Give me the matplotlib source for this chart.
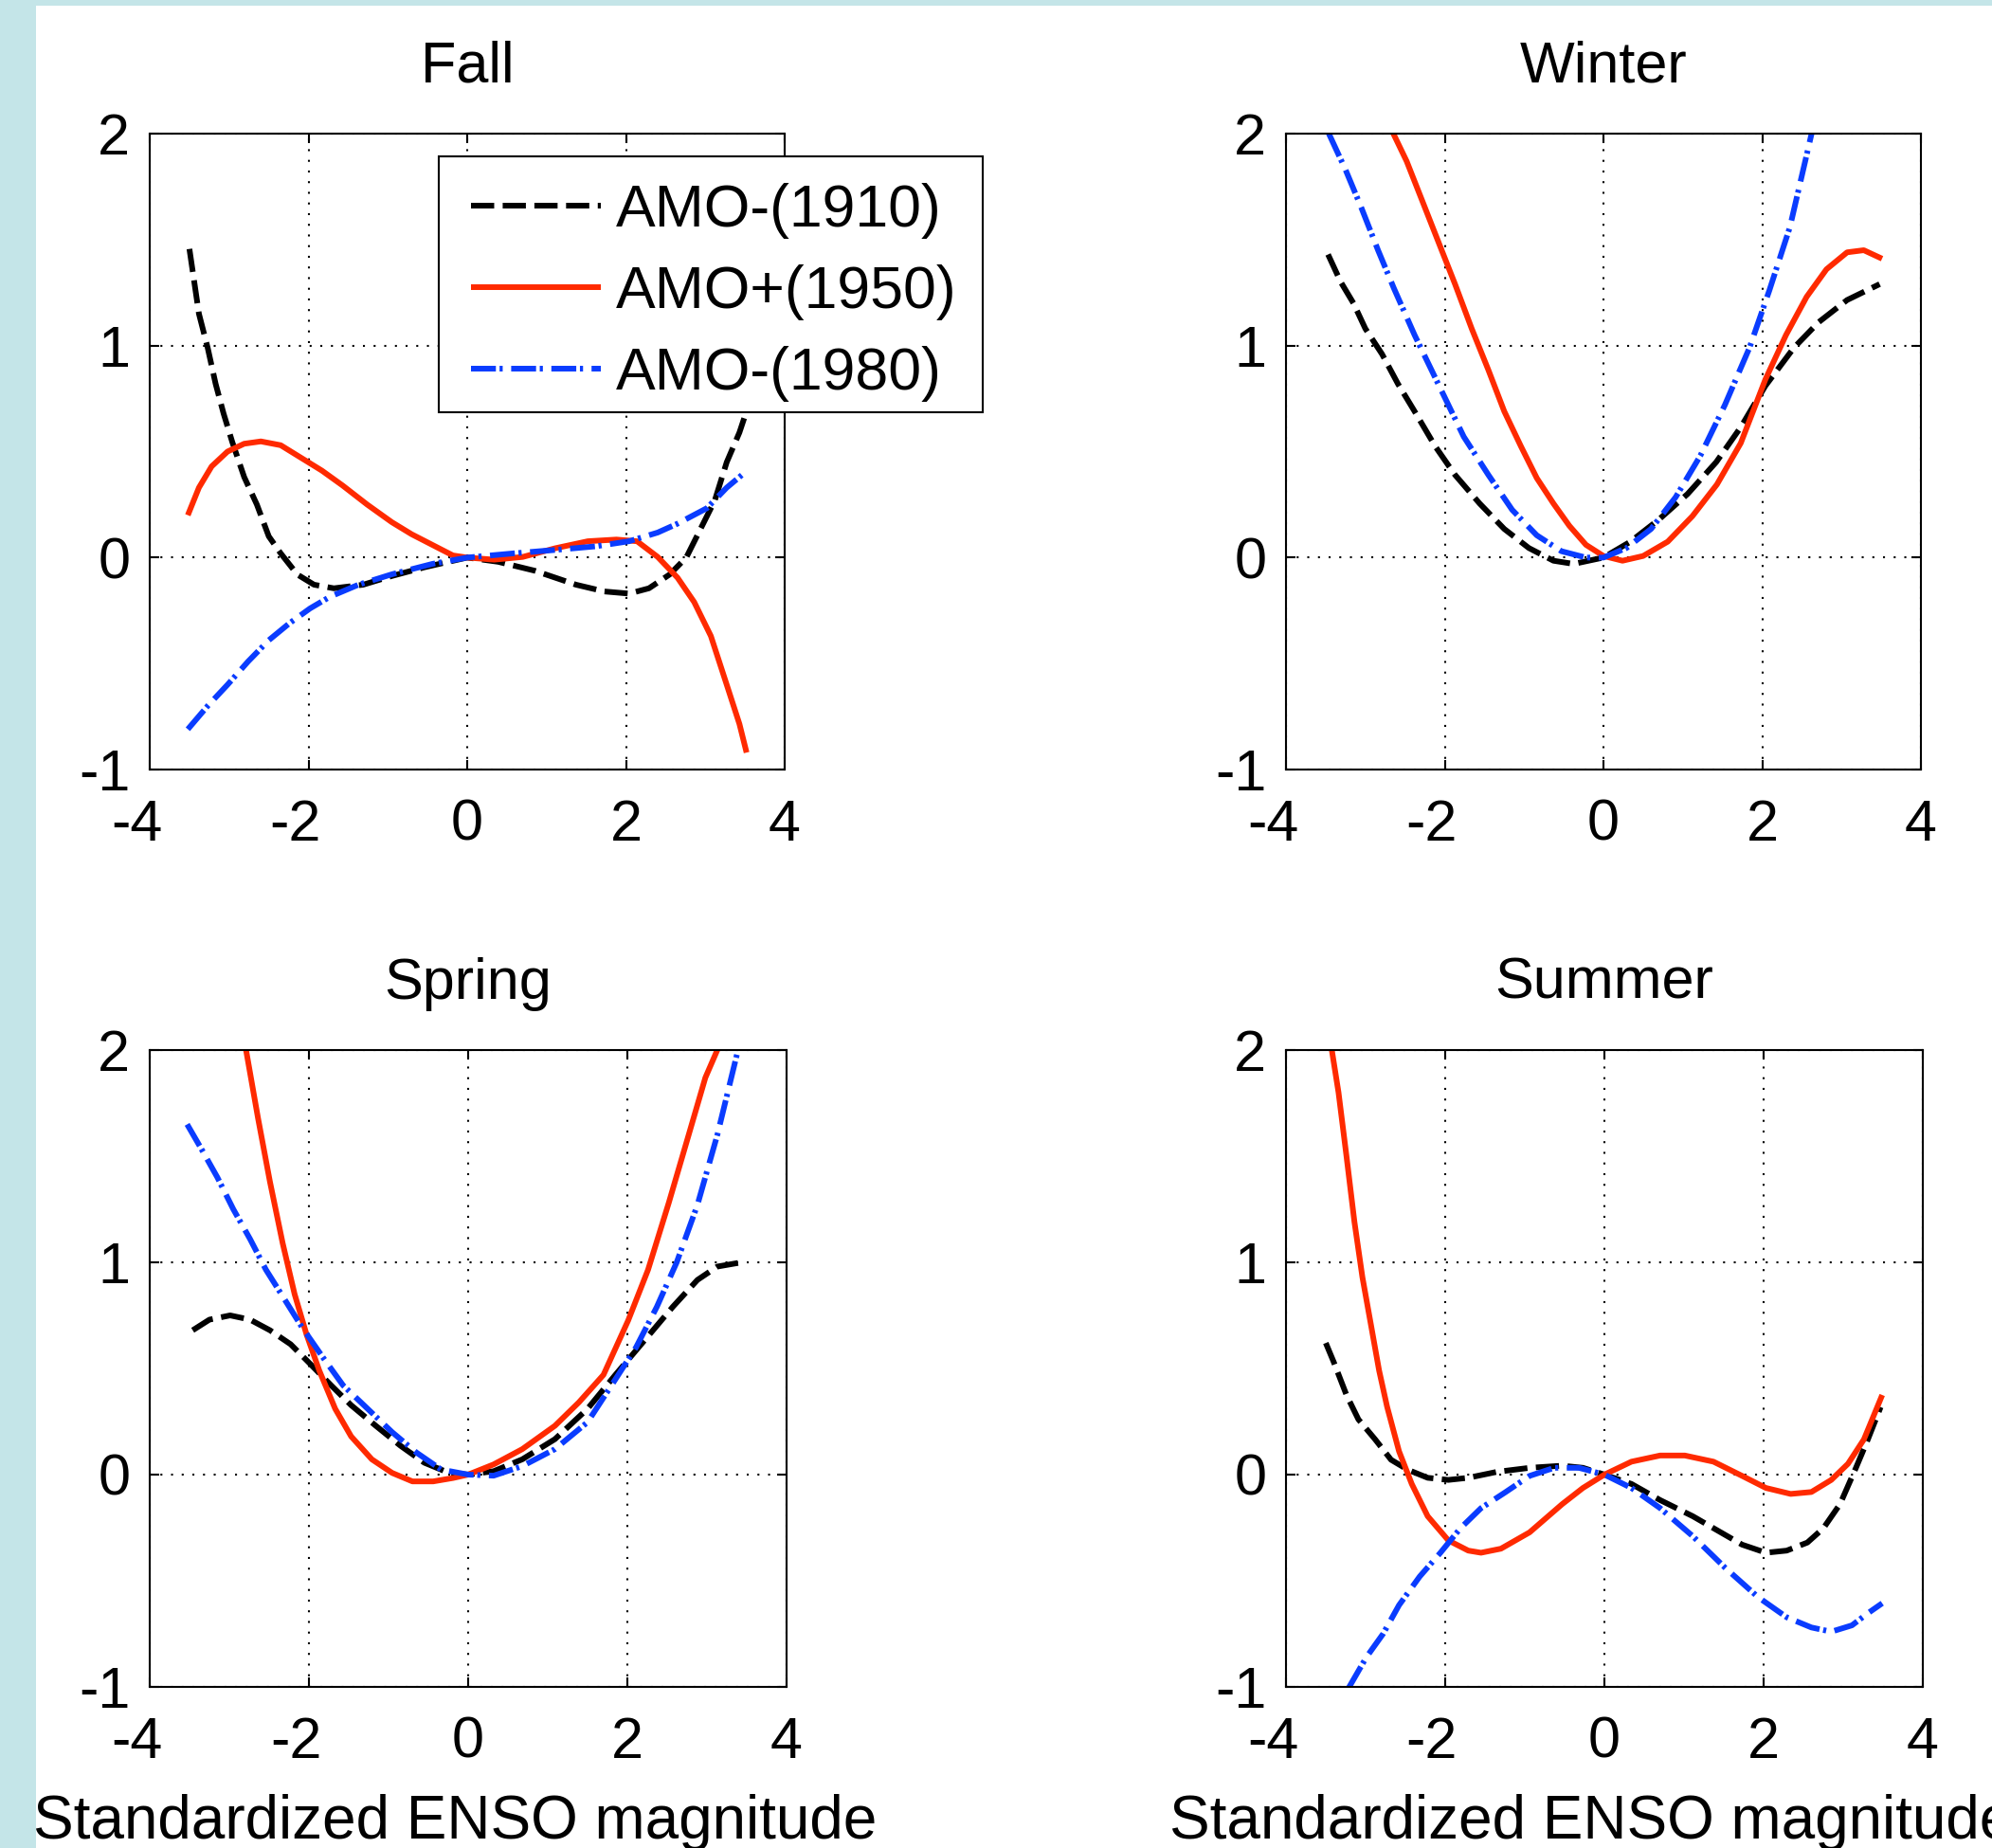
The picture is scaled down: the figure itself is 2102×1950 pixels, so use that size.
import matplotlib
matplotlib.use('Agg')
import matplotlib.pyplot as plt
from matplotlib.patches import Rectangle
from matplotlib.transforms import ScaledTranslation

plt.rcParams['font.family'] = ['Liberation Sans', 'DejaVu Sans']
plt.rcParams['axes.unicode_minus'] = False

# ---------------- data ----------------
panel_titles = ['Fall', 'Winter', 'Spring', 'Summer']
series_labels = ['AMO-(1910)', 'AMO+(1950)', 'AMO-(1980)']
x_ticks = [-4, -2, 0, 2, 4]
y_ticks = [-1, 0, 1, 2]
x_label = 'Standardized ENSO magnitude'

# Fall
fall_1910_x = [-3.5, -3.38, -3.27, -3.17, -3.07, -2.96, -2.81, -2.65, -2.50, -2.35, -2.14, -1.93, -1.68, -1.31, -0.95, -0.54, 0.0, 0.39, 0.85, 1.37, 1.73, 2.04, 2.29, 2.55, 2.76, 2.96, 3.12, 3.27, 3.43, 3.51, 3.53]
fall_1910_y = [1.456, 1.15, 0.99, 0.82, 0.68, 0.545, 0.38, 0.25, 0.10, 0.02, -0.08, -0.128, -0.145, -0.128, -0.087, -0.046, 0.0, -0.02, -0.062, -0.128, -0.16, -0.17, -0.145, -0.08, 0.0, 0.15, 0.27, 0.45, 0.59, 0.68, 0.72]
fall_1950_x = [-3.52, -3.38, -3.22, -3.02, -2.81, -2.60, -2.35, -2.09, -1.83, -1.57, -1.26, -0.95, -0.70, -0.44, -0.18, 0.0, 0.34, 0.70, 1.11, 1.52, 1.88, 2.14, 2.40, 2.65, 2.86, 3.07, 3.27, 3.43, 3.52]
fall_1950_y = [0.20, 0.33, 0.43, 0.50, 0.537, 0.548, 0.53, 0.47, 0.41, 0.34, 0.25, 0.167, 0.11, 0.06, 0.01, 0.0, -0.01, 0.003, 0.044, 0.077, 0.085, 0.077, 0.003, -0.095, -0.21, -0.37, -0.60, -0.785, -0.92]
fall_1980_x = [-3.52, -3.27, -3.02, -2.76, -2.50, -2.24, -1.98, -1.73, -1.37, -0.95, -0.44, 0.0, 0.59, 1.11, 1.62, 2.04, 2.40, 2.65, 3.02, 3.27, 3.51]
fall_1980_y = [-0.81, -0.70, -0.60, -0.49, -0.39, -0.31, -0.24, -0.185, -0.128, -0.079, -0.03, 0.0, 0.02, 0.036, 0.053, 0.077, 0.118, 0.16, 0.233, 0.33, 0.405]

# Winter
winter_1910_x = [-3.47, -3.31, -3.15, -3.0, -2.79, -2.59, -2.38, -2.12, -1.87, -1.56, -1.25, -0.94, -0.63, -0.375, 0.0, 0.34, 0.70, 1.06, 1.42, 1.73, 2.04, 2.40, 2.71, 3.07, 3.48]
winter_1910_y = [1.43, 1.30, 1.20, 1.08, 0.96, 0.82, 0.69, 0.525, 0.39, 0.255, 0.135, 0.045, -0.015, -0.03, 0.0, 0.075, 0.18, 0.30, 0.45, 0.615, 0.81, 0.99, 1.11, 1.215, 1.29]
winter_1950_x = [-3.47, -3.1, -2.66, -2.48, -2.28, -2.07, -1.87, -1.66, -1.45, -1.25, -1.04, -0.84, -0.63, -0.43, -0.22, 0.0, 0.24, 0.50, 0.81, 1.12, 1.43, 1.73, 2.04, 2.30, 2.56, 2.81, 3.07, 3.28, 3.51]
winter_1950_y = [2.82, 2.44, 2.01, 1.87, 1.68, 1.48, 1.29, 1.08, 0.885, 0.69, 0.525, 0.375, 0.255, 0.15, 0.06, 0.0075, -0.015, 0.0075, 0.075, 0.195, 0.345, 0.54, 0.84, 1.05, 1.23, 1.36, 1.44, 1.45, 1.41]
winter_1980_x = [-3.46, -3.25, -3.05, -2.84, -2.64, -2.38, -2.07, -1.76, -1.45, -1.15, -0.84, -0.53, -0.22, 0.0, 0.29, 0.60, 0.91, 1.22, 1.53, 1.84, 2.09, 2.35, 2.61, 3.0, 3.5]
winter_1980_y = [2.0, 1.83, 1.65, 1.45, 1.27, 1.05, 0.81, 0.57, 0.39, 0.225, 0.105, 0.03, 0.0, 0.0, 0.045, 0.135, 0.285, 0.48, 0.72, 0.99, 1.26, 1.56, 1.98, 2.6, 3.5]

# Spring
spring_1910_x = [-3.46, -3.25, -2.99, -2.74, -2.49, -2.23, -1.98, -1.72, -1.47, -1.16, -0.85, -0.55, -0.24, 0.0, 0.32, 0.68, 1.09, 1.50, 1.85, 2.21, 2.57, 2.88, 3.13, 3.39]
spring_1910_y = [0.68, 0.73, 0.75, 0.73, 0.68, 0.614, 0.52, 0.42, 0.327, 0.23, 0.136, 0.056, 0.008, 0.0, 0.016, 0.072, 0.167, 0.31, 0.47, 0.63, 0.79, 0.917, 0.98, 0.997]
spring_1950_x = [-3.4, -3.0, -2.79, -2.64, -2.49, -2.33, -2.18, -2.03, -1.87, -1.67, -1.47, -1.21, -0.955, -0.70, -0.44, -0.19, 0.0, 0.32, 0.68, 1.09, 1.39, 1.70, 2.01, 2.26, 2.52, 2.77, 2.98, 3.13, 3.4]
spring_1950_y = [3.4, 2.45, 2.0, 1.68, 1.38, 1.09, 0.85, 0.66, 0.49, 0.31, 0.18, 0.072, 0.008, -0.032, -0.032, -0.016, 0.0, 0.048, 0.12, 0.23, 0.34, 0.47, 0.726, 0.965, 1.28, 1.60, 1.87, 2.0, 2.45]
spring_1980_x = [-3.53, -3.36, -3.15, -2.95, -2.74, -2.54, -2.33, -2.08, -1.82, -1.57, -1.31, -0.955, -0.65, -0.34, 0.0, 0.32, 0.68, 1.09, 1.50, 1.80, 2.11, 2.37, 2.62, 2.88, 3.13, 3.39, 3.5]
spring_1980_y = [1.65, 1.54, 1.40, 1.25, 1.11, 0.965, 0.84, 0.69, 0.55, 0.42, 0.327, 0.20, 0.104, 0.024, 0.0, -0.005, 0.04, 0.12, 0.247, 0.42, 0.60, 0.79, 1.0, 1.27, 1.60, 2.0, 2.2]

# Summer
summer_1910_x = [-3.50, -3.40, -3.24, -3.09, -2.88, -2.68, -2.47, -2.22, -1.96, -1.71, -1.35, -0.94, -0.53, -0.27, 0.0, 0.34, 0.70, 1.11, 1.42, 1.73, 2.03, 2.29, 2.55, 2.75, 2.96, 3.16, 3.31, 3.47]
summer_1910_y = [0.62, 0.53, 0.375, 0.26, 0.166, 0.07, 0.023, -0.015, -0.025, -0.015, 0.013, 0.032, 0.042, 0.032, 0.0, -0.044, -0.12, -0.196, -0.263, -0.33, -0.368, -0.358, -0.32, -0.253, -0.139, 0.032, 0.166, 0.318]
summer_1950_x = [-3.48, -3.42, -3.34, -3.24, -3.14, -3.04, -2.93, -2.83, -2.73, -2.58, -2.42, -2.22, -1.96, -1.71, -1.55, -1.30, -0.94, -0.53, -0.27, 0.0, 0.34, 0.70, 1.01, 1.37, 1.73, 2.03, 2.34, 2.60, 2.85, 3.06, 3.26, 3.49]
summer_1950_y = [2.15, 1.99, 1.80, 1.50, 1.19, 0.93, 0.70, 0.49, 0.32, 0.11, -0.044, -0.196, -0.31, -0.358, -0.368, -0.349, -0.272, -0.139, -0.063, 0.0, 0.061, 0.09, 0.09, 0.061, -0.006, -0.063, -0.091, -0.082, -0.025, 0.051, 0.166, 0.375]
summer_1980_x = [-3.47, -3.19, -2.99, -2.78, -2.58, -2.32, -2.06, -1.81, -1.55, -1.24, -0.94, -0.63, -0.32, 0.0, 0.34, 0.70, 1.11, 1.52, 1.93, 2.29, 2.60, 2.85, 3.11, 3.31, 3.49]
summer_1980_y = [-1.17, -0.99, -0.86, -0.75, -0.615, -0.48, -0.368, -0.253, -0.158, -0.082, -0.006, 0.032, 0.032, 0.0, -0.063, -0.158, -0.29, -0.44, -0.577, -0.672, -0.72, -0.74, -0.71, -0.653, -0.606]

panel_data = {
    'Fall': [(fall_1910_x, fall_1910_y), (fall_1950_x, fall_1950_y), (fall_1980_x, fall_1980_y)],
    'Winter': [(winter_1910_x, winter_1910_y), (winter_1950_x, winter_1950_y), (winter_1980_x, winter_1980_y)],
    'Spring': [(spring_1910_x, spring_1910_y), (spring_1950_x, spring_1950_y), (spring_1980_x, spring_1980_y)],
    'Summer': [(summer_1910_x, summer_1910_y), (summer_1950_x, summer_1950_y), (summer_1980_x, summer_1980_y)],
}

# ---------------- styling ----------------
W, H = 2102, 1950
FS = 44
series_styles = [
    dict(color='black', linestyle=(0, (4.1, 1.5))),
    dict(color='#ff2a00', linestyle='-'),
    dict(color='#0a3cff', linestyle=(0, (4.4, 0.65, 0.55, 1.5))),
]
LW = 4.3

# axes rectangles in pixels: left, right, top, bottom
axes_px = {
    'Fall':   (158, 828, 141, 812),
    'Winter': (1357, 2027, 141, 812),
    'Spring': (158, 830, 1108, 1780),
    'Summer': (1357, 2029, 1108, 1780),
}

fig = plt.figure(figsize=(W / 100, H / 100), dpi=100, facecolor='#c4e5e8')
fig.patches.append(Rectangle((38 / W, 0), 1, 1 - 6 / H, transform=fig.transFigure,
                             facecolor='white', edgecolor='none', zorder=-10))

neg_shift = ScaledTranslation(-14 / 100, 0, fig.dpi_scale_trans)
legend_handles = None

for name in panel_titles:
    l, r, t, b = axes_px[name]
    ax = fig.add_axes([l / W, 1 - b / H, (r - l) / W, (b - t) / H])
    lines = []
    for (xs, ys), st, lab in zip(panel_data[name], series_styles, series_labels):
        ln, = ax.plot(xs, ys, lw=LW, label=lab, solid_capstyle='butt',
                      dash_capstyle='butt', solid_joinstyle='round', **st)
        lines.append(ln)
    if name == 'Fall':
        legend_handles = lines
    ax.set_xlim(-4, 4)
    ax.set_ylim(-1, 2)
    ax.set_xticks(x_ticks)
    ax.set_yticks(y_ticks)
    ax.set_xticklabels([str(v) for v in x_ticks])
    ax.set_yticklabels([str(v) for v in y_ticks])
    ax.grid(True, color='black', linestyle=(0, (1, 4.4)), linewidth=1.5)
    ax.tick_params(axis='both', direction='in', length=7, width=1.5, labelsize=FS,
                   top=True, right=True)
    ax.tick_params(axis='x', pad=22)
    ax.tick_params(axis='y', pad=15)
    for sp in ax.spines.values():
        sp.set_linewidth(1.5)
    ax.set_title(name, fontsize=FS, pad=39)
    if name in ('Spring', 'Summer'):
        ax.set_xlabel(x_label, fontsize=46)
        ax.xaxis.set_label_coords(0.48, -0.168)
    # hanging minus sign on negative x tick labels
    for tk, v in zip(ax.xaxis.get_major_ticks(), x_ticks):
        if v < 0:
            tk.label1.set_transform(tk.label1.get_transform() + neg_shift)

# legend frame (drawn above the axes) and legend entries
fig.add_artist(Rectangle((463 / W, 1 - 435 / H), (1037 - 463) / W, (435 - 165) / H,
                         transform=fig.transFigure, facecolor='white',
                         edgecolor='black', linewidth=1.5, zorder=5))
leg = fig.legend(legend_handles, series_labels, loc='upper left',
                 bbox_to_anchor=(497 / W, 1 - 193 / H), bbox_transform=fig.transFigure,
                 borderaxespad=0, borderpad=0, fontsize=45, handlelength=2.19,
                 handletextpad=0.26, labelspacing=0.43, frameon=False)
leg.set_zorder(6)

fig.savefig('out.png', dpi=100, facecolor=fig.get_facecolor())
